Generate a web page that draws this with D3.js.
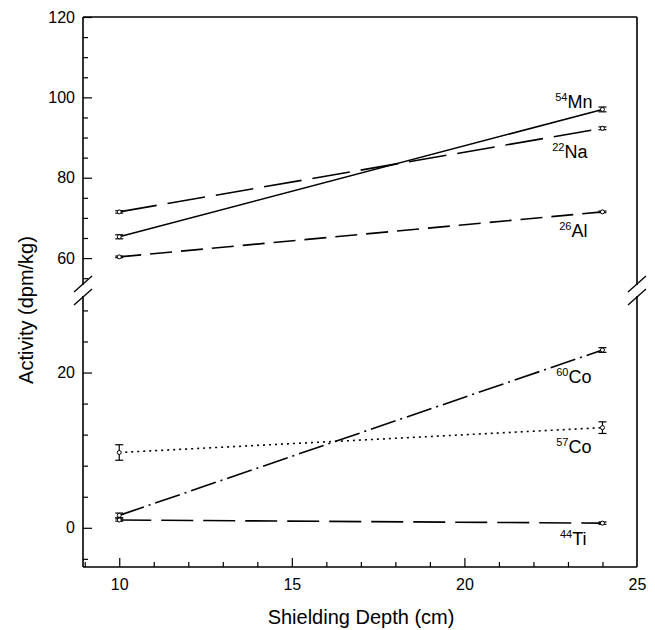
<!DOCTYPE html>
<html>
<head>
<meta charset="utf-8">
<script src="https://cdn.jsdelivr.net/npm/d3@7"></script>
<style>
  body { margin: 0; background: #fff; }
  text { font-family: "Liberation Sans", Arial, sans-serif; fill: #000; }
</style>
</head>
<body>
<script>

// ---- data ----
var depth = [10, 24];

var mn54 = [65.3, 97.0],  mn54Err = [0.5, 0.6];
var na22 = [71.5, 92.3],  na22Err = [0.3, 0.35];
var al26 = [60.3, 71.5],  al26Err = [0.2, 0.2];
var co60 = [1.6, 22.9],   co60Err = [0.3, 0.3];
var co57 = [9.7, 12.9],   co57Err = [1.0, 0.75];
var ti44 = [1.0, 0.6],    ti44Err = [0.15, 0.15];

var xTicksMajor = [10, 15, 20, 25];
var upperTicksMajor = [60, 80, 100, 120];
var lowerTicksMajor = [0, 20];

// ---- layout ----
var W = 655, H = 630;
var pLeft = 83, pRight = 637, pTop = 17, pBottom = 567;
var upperBottom = 283, lowerTop = 298;

var svg = d3.select("body").append("svg")
    .attr("width", W)
    .attr("height", H);

var x = d3.scaleLinear().domain([8.95, 25]).range([pLeft, pRight]);
var yUp = d3.scaleLinear().domain([53.8, 120]).range([upperBottom, pTop]);
var yLo = d3.scaleLinear().domain([-5.05, 29.6]).range([pBottom, lowerTop]);

// series table (styles kept here, values come from the arrays above)
var series = [
    {name: "Mn", iso: "54", v: mn54, e: mn54Err, panel: "up", dash: null, dx: -10, dy: -1},
    {name: "Na", iso: "22", v: na22, e: na22Err, panel: "up", dash: "38,11", dx: -15, dy: 30},
    {name: "Al", iso: "26", v: al26, e: al26Err, panel: "up", dash: "22,9", dx: -15, dy: 25},
    {name: "Co", iso: "60", v: co60, e: co60Err, panel: "lo", dash: "26,5,2,5", dx: -11, dy: 33},
    {name: "Co", iso: "57", v: co57, e: co57Err, panel: "lo", dash: "2,4", dx: -11, dy: 25.5},
    {name: "Ti", iso: "44", v: ti44, e: ti44Err, panel: "lo", dash: "32,10", dx: -16, dy: 22}
];

function yOf(s) { return s.panel === "up" ? yUp : yLo; }

// ---- axes (ticks point inward) ----
var xAxis = d3.axisBottom(x)
    .tickValues(d3.range(9, 25, 1).filter(function (d) { return xTicksMajor.indexOf(d) < 0; }))
    .tickSize(-5).tickFormat("");
svg.append("g").attr("transform", "translate(0," + pBottom + ")").call(xAxis);

var xAxisMajor = d3.axisBottom(x)
    .tickValues(xTicksMajor)
    .tickSizeInner(-9).tickSizeOuter(0).tickPadding(12)
    .tickFormat(d3.format("d"));
svg.append("g").attr("class", "xmaj").attr("transform", "translate(0," + pBottom + ")").call(xAxisMajor);

var upMinor = d3.range(55, 120, 5).filter(function (d) { return upperTicksMajor.indexOf(d) < 0; });
svg.append("g").attr("transform", "translate(" + pLeft + ",0)")
    .call(d3.axisLeft(yUp).tickValues(upMinor).tickSize(-5).tickFormat(""));
svg.append("g").attr("transform", "translate(" + pLeft + ",0)")
    .call(d3.axisLeft(yUp).tickValues(upperTicksMajor).tickSizeInner(-9).tickSizeOuter(0).tickPadding(8));

var loMinor = d3.range(-4, 29, 4).filter(function (d) { return lowerTicksMajor.indexOf(d) < 0; });
svg.append("g").attr("transform", "translate(" + pLeft + ",0)")
    .call(d3.axisLeft(yLo).tickValues(loMinor).tickSize(-5).tickFormat(""));
svg.append("g").attr("transform", "translate(" + pLeft + ",0)")
    .call(d3.axisLeft(yLo).tickValues(lowerTicksMajor).tickSizeInner(-9).tickSizeOuter(0).tickPadding(8));

svg.selectAll(".domain").remove();
svg.selectAll(".tick line").attr("stroke", "#000").attr("stroke-width", 1.2);
svg.selectAll(".tick text")
    .style("font-family", "'Liberation Sans', Arial, sans-serif")
    .style("font-size", "16px").attr("fill", "#000");
// no tick mark on the corner at 25
svg.selectAll(".xmaj .tick").filter(function (d) { return d === 25; }).select("line").remove();

// ---- frame with axis breaks ----
var frame = svg.append("g").attr("stroke", "#000").attr("stroke-width", 1.6).attr("fill", "none");
frame.append("line").attr("x1", pLeft).attr("x2", pRight).attr("y1", pTop).attr("y2", pTop);
frame.append("line").attr("x1", pLeft).attr("x2", pRight).attr("y1", pBottom).attr("y2", pBottom);
[pLeft, pRight].forEach(function (xx) {
    frame.append("line").attr("x1", xx).attr("x2", xx).attr("y1", pTop).attr("y2", upperBottom + 2);
    frame.append("line").attr("x1", xx).attr("x2", xx).attr("y1", lowerTop - 2).attr("y2", pBottom);
    [upperBottom + 1, lowerTop - 1].forEach(function (yc) {
        frame.append("line")
            .attr("stroke-width", 1.3)
            .attr("x1", xx - 9).attr("y1", yc + 8)
            .attr("x2", xx + 9).attr("y2", yc - 8);
    });
});

// ---- series lines ----
var g = svg.append("g");
series.forEach(function (s) {
    var ys = yOf(s);
    var pts = depth.map(function (d, i) { return [x(d), ys(s.v[i])]; });

    g.append("path")
        .attr("d", d3.line()(pts))
        .attr("fill", "none")
        .attr("stroke", "#000")
        .attr("stroke-width", 1.6)
        .attr("stroke-dasharray", s.dash);

    depth.forEach(function (d, i) {
        var cx = x(d);
        var y1 = ys(s.v[i] - s.e[i]), y2 = ys(s.v[i] + s.e[i]);
        var eb = g.append("g").attr("stroke", "#000").attr("stroke-width", 1.2);
        eb.append("line").attr("x1", cx).attr("x2", cx).attr("y1", y1).attr("y2", y2);
        eb.append("line").attr("x1", cx - 4).attr("x2", cx + 4).attr("y1", y1).attr("y2", y1);
        eb.append("line").attr("x1", cx - 4).attr("x2", cx + 4).attr("y1", y2).attr("y2", y2);
        g.append("circle")
            .attr("cx", cx).attr("cy", ys(s.v[i])).attr("r", 2)
            .attr("fill", "#fff").attr("stroke", "#000").attr("stroke-width", 1);
    });

    var last = depth.length - 1;
    var t = g.append("text")
        .attr("x", x(depth[last]) + s.dx)
        .attr("y", ys(s.v[last]) + s.dy)
        .attr("text-anchor", "end")
        .style("font-size", "18px");
    t.append("tspan").attr("dy", -7).style("font-size", "11px").text(s.iso);
    t.append("tspan").attr("dy", 7).text(s.name);
});

// ---- axis titles ----
svg.append("text")
    .attr("x", (pLeft + pRight) / 2 + 1)
    .attr("y", 624)
    .attr("text-anchor", "middle")
    .style("font-size", "20px")
    .text("Shielding Depth (cm)");

svg.append("text")
    .attr("transform", "translate(33,310) rotate(-90)")
    .attr("text-anchor", "middle")
    .style("font-size", "20px")
    .text("Activity (dpm/kg)");

</script>
</body>
</html>
